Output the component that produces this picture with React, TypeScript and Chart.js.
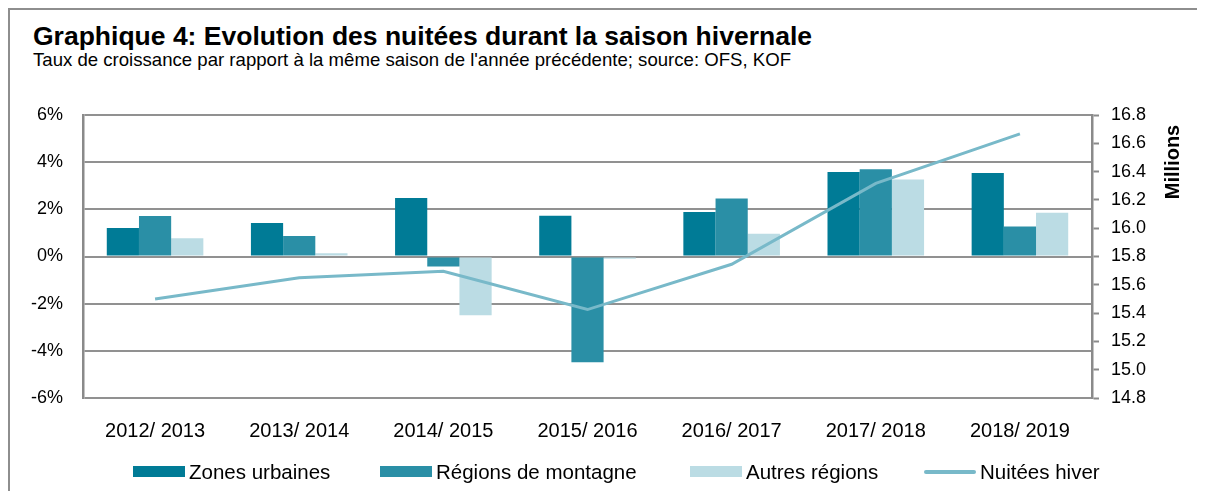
import React, { useEffect, useRef } from "react";
import { Chart, registerables } from "chart.js";

Chart.register(...registerables);

const categories = [
  "2012/ 2013",
  "2013/ 2014",
  "2014/ 2015",
  "2015/ 2016",
  "2016/ 2017",
  "2017/ 2018",
  "2018/ 2019",
];
const zonesUrbaines = [1.21, 1.42, 2.48, 1.73, 1.89, 3.58, 3.54];
const regionsMontagne = [1.72, 0.87, -0.42, -4.48, 2.46, 3.7, 1.27];
const autresRegions = [0.77, 0.14, -2.49, -0.1, 0.96, 3.27, 1.85];
const nuiteesHiver = [15.5, 15.65, 15.695, 15.425, 15.745, 16.317, 16.667];

const leftTicks = [-6, -4, -2, 0, 2, 4, 6];
const rightTicks = [14.8, 15.0, 15.2, 15.4, 15.6, 15.8, 16.0, 16.2, 16.4, 16.6, 16.8];

const seriesNames = ["Zones urbaines", "Régions de montagne", "Autres régions", "Nuitées hiver"];
const colors = ["#007B96", "#2A8FA6", "#BBDCE4", "#78B9C9"];

const FONT = "'Liberation Sans', Arial, Helvetica, sans-serif";
const GRID = "#919191";
const AXIS = "#8a8a8a";

export default function App() {
  const ref = useRef<HTMLCanvasElement | null>(null);

  useEffect(() => {
    if (!ref.current) return;
    const millionsPlugin = {
      id: "millionsTitle",
      afterDraw(chart: any) {
        const { ctx, chartArea } = chart;
        ctx.save();
        ctx.translate(chartArea.right + 81, chartArea.top + 47);
        ctx.rotate(-Math.PI / 2);
        ctx.font = `bold 20px ${FONT}`;
        ctx.fillStyle = "#000";
        ctx.textAlign = "center";
        ctx.textBaseline = "middle";
        ctx.fillText("Millions", 0, 0);
        ctx.restore();
      },
    };

    const chart = new Chart(ref.current, {
      type: "bar",
      data: {
        labels: categories,
        datasets: [
          {
            label: seriesNames[0],
            data: zonesUrbaines,
            backgroundColor: colors[0],
            yAxisID: "y",
            order: 1,
          },
          {
            label: seriesNames[1],
            data: regionsMontagne,
            backgroundColor: colors[1],
            yAxisID: "y",
            order: 1,
          },
          {
            label: seriesNames[2],
            data: autresRegions,
            backgroundColor: colors[2],
            yAxisID: "y",
            order: 1,
          },
          {
            type: "line",
            label: seriesNames[3],
            data: nuiteesHiver,
            borderColor: colors[3],
            backgroundColor: colors[3],
            borderWidth: 3,
            pointRadius: 0,
            tension: 0,
            yAxisID: "y1",
            order: 0,
          } as any,
        ],
      },
      options: {
        responsive: false,
        devicePixelRatio: 1,
        animation: false,
        layout: { padding: { top: 105, left: 0, right: 0, bottom: 0 } },
        plugins: {
          legend: { display: false },
          tooltip: { enabled: false },
          title: { display: false },
        },
        datasets: {
          bar: { categoryPercentage: 0.67, barPercentage: 1.0 },
        },
        scales: {
          x: {
            type: "category",
            grid: { display: false },
            border: { display: false },
            ticks: {
              font: { family: FONT, size: 20 },
              color: "#000",
              padding: 13,
              maxRotation: 0,
              autoSkip: false,
            },
            afterFit(scale: any) {
              scale.height = 93;
            },
          },
          y: {
            type: "linear",
            position: "left",
            min: -6,
            max: 6,
            afterBuildTicks(scale: any) {
              scale.ticks = leftTicks.map((v) => ({ value: v }));
            },
            ticks: {
              font: { family: FONT, size: 18 },
              color: "#000",
              padding: 20,
              callback: (v: any) => `${v}%`,
            },
            grid: {
              color: GRID,
              lineWidth: 2,
              drawTicks: false,
            },
            border: { display: true, color: AXIS, width: 2.5 },
            afterFit(scale: any) {
              scale.width = 73;
            },
          },
          y1: {
            type: "linear",
            position: "right",
            min: 14.8,
            max: 16.8,
            afterBuildTicks(scale: any) {
              scale.ticks = rightTicks.map((v) => ({ value: v }));
            },
            ticks: {
              font: { family: FONT, size: 18 },
              color: "#000",
              padding: 12,
              callback: (v: any) => Number(v).toFixed(1),
            },
            grid: {
              drawOnChartArea: false,
              drawTicks: true,
              tickLength: 7,
              tickColor: AXIS,
              tickWidth: 2,
            },
            border: { display: true, color: AXIS, width: 2.5 },
            afterFit(scale: any) {
              scale.width = 105;
            },
          },
        },
      },
      plugins: [millionsPlugin],
    } as any);

    return () => chart.destroy();
  }, []);

  const legendLefts = [123, 370, 680, 914];

  return (
    <div
      style={{
        position: "relative",
        width: 1187,
        height: 481,
        borderTop: "2px solid #8e8e8e",
        borderLeft: "2px solid #8e8e8e",
        background: "#fff",
        fontFamily: FONT,
        color: "#000",
      }}
    >
      <div
        style={{
          position: "absolute",
          left: 23,
          top: 13,
          fontSize: 26.5,
          lineHeight: "26px",
          fontWeight: "bold",
          whiteSpace: "nowrap",
        }}
      >
        Graphique 4: Evolution des nuitées durant la saison hivernale
      </div>
      <div
        style={{
          position: "absolute",
          left: 23,
          top: 40,
          fontSize: 18.6,
          lineHeight: "19px",
          whiteSpace: "nowrap",
        }}
      >
        Taux de croissance par rapport à la même saison de l'année précédente; source: OFS, KOF
      </div>
      <canvas
        ref={ref}
        width={1187}
        height={481}
        style={{ position: "absolute", left: 0, top: 0, width: 1187, height: 481, display: "block" }}
      />
      {seriesNames.map((name, i) => (
        <div key={name}>
          <div
            style={{
              position: "absolute",
              left: legendLefts[i],
              top: i === 3 ? 460 : 456,
              width: 52,
              height: i === 3 ? 4 : 11,
              background: colors[i],
              borderRadius: i === 3 ? 2 : 0,
            }}
          />
          <div
            style={{
              position: "absolute",
              left: legendLefts[i] + 56,
              top: 451.5,
              fontSize: 20.5,
              lineHeight: "20px",
              whiteSpace: "nowrap",
            }}
          >
            {name}
          </div>
        </div>
      ))}
    </div>
  );
}
